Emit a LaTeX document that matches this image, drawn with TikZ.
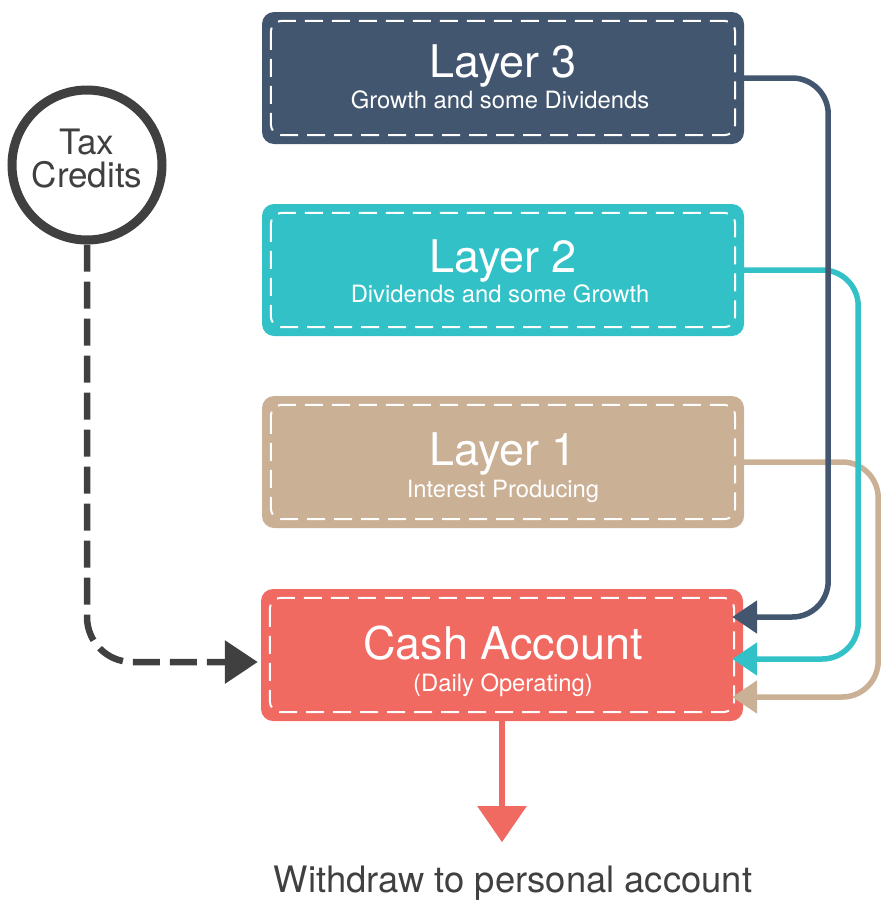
\documentclass[tikz,border=0pt]{standalone}
\usepackage{fontspec}
\setmainfont{TeX Gyre Heros}
\usetikzlibrary{arrows.meta}

\definecolor{layerthree}{HTML}{43566F}
\definecolor{layertwo}{HTML}{33C1C8}
\definecolor{layerone}{HTML}{CAB095}
\definecolor{cashred}{HTML}{F06A62}
\definecolor{inkgray}{HTML}{404040}

\tikzset{
  layerbox/.style={draw=none, fill=#1, rounded corners=12pt,
    minimum width=482pt, minimum height=132pt, inner sep=0pt},
  innerdash/.style={draw=white, line width=2pt, rounded corners=11pt,
    dash pattern=on 18pt off 9pt},
  titletext/.style={text=white, anchor=base, inner sep=0pt,
    font=\fontsize{45}{50}\selectfont},
  subtext/.style={text=white, anchor=base, inner sep=0pt,
    font=\fontsize{23.8}{27}\selectfont},
  feedline/.style={draw=#1, line width=5.5pt, rounded corners=36pt,
    -{Triangle[length=25pt,width=32pt]}},
  taxline/.style={draw=inkgray, line width=6.5pt, rounded corners=45pt,
    dash pattern=on 27pt off 10pt,
    -{Triangle[length=33pt,width=42pt]}},
}

\begin{document}
\begin{tikzpicture}[x=1pt, y=-1pt]
  \useasboundingbox (0,0) rectangle (881,900);

  % the four account boxes
  \node[layerbox=layerthree] (l3) at (503,78) {};
  \node[layerbox=layertwo]   (l2) at (503,270) {};
  \node[layerbox=layerone]   (l1) at (503,462) {};
  \node[layerbox=cashred]    (cash) at (502,655) {};

  % stitched inner borders
  \foreach \b in {l3,l2,l1,cash}{
    \draw[innerdash] ([shift={(9pt,-9pt)}]\b.north west)
      rectangle ([shift={(-9pt,9pt)}]\b.south east);
  }

  % box labels
  \node[titletext] (l3t) at (503,77)  {Layer 3};
  \node[subtext]   (l3s) at (500,108) {Growth and some Dividends};
  \node[titletext] (l2t) at (503,272) {Layer 2};
  \node[subtext]   (l2s) at (500,302) {Dividends and some Growth};
  \node[titletext] (l1t) at (503,465) {Layer 1};
  \node[subtext]   (l1s) at (503,497) {Interest Producing};
  \node[titletext] (casht) at (503,659) {Cash Account};
  \node[subtext]   (cashs) at (503,691) {(Daily Operating)};

  % tax credits circle
  \node[circle, draw=inkgray, line width=9pt, fill=white,
        minimum size=150pt, inner sep=0pt] (tax) at (87,165) {};
  \node[align=center, inner sep=0pt, text=inkgray,
        font=\fontsize{35}{33}\selectfont] (taxlabel) at (87,159) {Tax\\Credits};

  % inflow entry points on the cash account
  \coordinate (in3) at ([shift={(-11pt,38pt)}]cash.east);
  \coordinate (in2) at ([shift={(-11pt,-4pt)}]cash.east);
  \coordinate (in1) at ([shift={(-11pt,-42pt)}]cash.east);
  \coordinate (intax) at ([shift={(-3pt,-7pt)}]cash.west);

  % feeds from each layer into the cash account
  \draw[feedline=layerone]   (l1.east) -- ++(134,0) |- (in1);
  \draw[feedline=layertwo]   (l2.east) -- ++(114,0) |- (in2);
  \draw[feedline=layerthree] (l3.east) -- ++(84,0)  |- (in3);

  % tax credits feed
  \draw[taxline] (tax.south) |- (intax);

  % withdrawal
  \node[anchor=base, inner sep=0pt, text=inkgray,
        font=\fontsize{36.4}{40}\selectfont] (withdraw) at (513,892)
        {Withdraw to personal account};
  \coordinate (wtip) at ([yshift=-121pt]cash.south);
  \draw[draw=cashred, line width=5.5pt,
        -{Triangle[length=36pt,width=48pt]}] (cash.south) -- (wtip);
\end{tikzpicture}
\end{document}
